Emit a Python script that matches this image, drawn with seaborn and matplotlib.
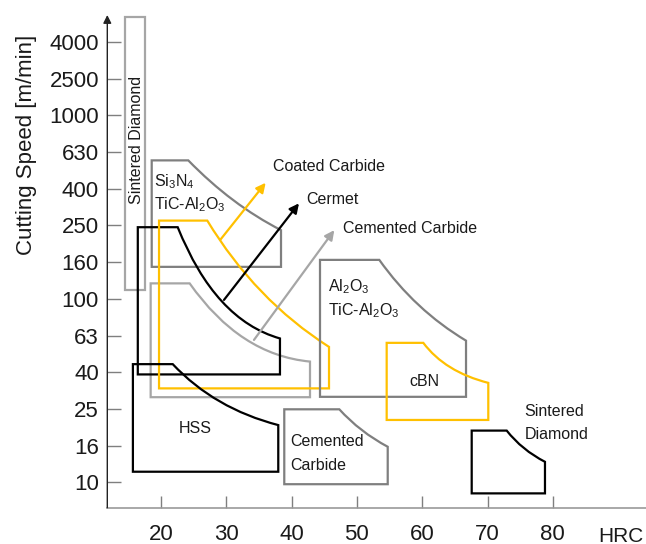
import matplotlib
matplotlib.use("Agg")
import matplotlib.pyplot as plt
from matplotlib.path import Path
from matplotlib.patches import PathPatch
import seaborn as sns

sns.set_theme(style="white")
FONT = "Liberation Sans"
plt.rcParams["font.family"] = [FONT, "DejaVu Sans"]
plt.rcParams["mathtext.fontset"] = "custom"
plt.rcParams["mathtext.rm"] = FONT
plt.rcParams["mathtext.it"] = FONT

# Cutting-speed ladder (evenly spaced steps) and hardness ticks
speed_labels = ["10", "16", "25", "40", "63", "100", "160", "250", "400", "630", "1000", "2500", "4000"]
hrc_ticks = [20, 30, 40, 50, 60, 70, 80]

# Tool-material regions: HRC range (x) and position on the speed ladder (y).
# Each region: left, bottom, top, x where the upper edge starts to fall,
# right, y where the falling edge meets the right side, and the bend point.
sd_tall = [14.55, 5.24, 12.67, 17.6]                     # left, bottom, top, right
si3n4 = [18.58, 5.87, 8.77, 24.18, 38.38, 6.87, 30.8, 7.56]
coated = [19.7, 2.56, 7.13, 27.09, 45.73, 3.69, 34.44, 4.97]
cermet = [16.45, 2.94, 6.95, 22.56, 38.22, 3.92, 28.27, 4.42]
cemented_hi = [18.42, 2.32, 5.42, 24.39, 42.82, 3.29, 32.1, 3.47]
hss = [15.7, 0.29, 3.22, 21.8, 37.96, 1.56, 28.19, 2.01]
cemented_lo = [38.88, -0.05, 1.99, 47.31, 54.72, 0.97, 50.47, 1.37]
al2o3 = [44.35, 2.33, 6.06, 53.43, 66.71, 3.86, 58.9, 4.69]
cbn = [54.56, 1.70, 3.80, 60.17, 70.12, 2.71, 63.49, 3.01]
sd_low = [67.58, -0.30, 1.41, 72.94, 78.8, 0.56, 75.28, 0.88]

# Development arrows: (x0, y0) -> (x1, y1)
arrow_coated = [29.14, 6.62, 36.03, 8.16]
arrow_cermet = [29.65, 4.97, 41.13, 7.6]
arrow_cemented = [34.24, 3.88, 46.54, 6.87]

GOLD = "#FFC000"
DARK = "#7F7F7F"
LIGHT = "#A6A6A6"
BLACK = "#000000"

fig = plt.figure(figsize=(6.46, 5.44), dpi=100)
ax = fig.add_axes([107.3 / 646, 1 - 507.7 / 544, (646 - 107.3) / 646, (507.7 - 15) / 544])
ax.set_xlim(11.78, 94.27)
ax.set_ylim(-0.69, 12.73)


def region(r, color):
    left, bottom, top, xs, right, ye, cx, cy = r
    verts = [(left, bottom), (left, top), (xs, top), (cx, cy), (right, ye),
             (right, bottom), (left, bottom)]
    codes = [Path.MOVETO, Path.LINETO, Path.LINETO, Path.CURVE3, Path.CURVE3,
             Path.LINETO, Path.CLOSEPOLY]
    ax.add_patch(PathPatch(Path(verts, codes), fill=False, edgecolor=color,
                           lw=1.6, joinstyle="miter", zorder=3))


def box(r, color):
    left, bottom, top, right = r
    verts = [(left, bottom), (left, top), (right, top), (right, bottom), (left, bottom)]
    codes = [Path.MOVETO, Path.LINETO, Path.LINETO, Path.LINETO, Path.CLOSEPOLY]
    ax.add_patch(PathPatch(Path(verts, codes), fill=False, edgecolor=color,
                           lw=1.6, joinstyle="miter", zorder=3))


def arrow(a, color):
    x0, y0, x1, y1 = a
    ax.annotate("", xy=(x1, y1), xytext=(x0, y0),
                arrowprops=dict(arrowstyle="-|>", color=color, lw=1.6,
                                mutation_scale=14, shrinkA=0, shrinkB=0),
                zorder=4)


box(sd_tall, LIGHT)
region(si3n4, DARK)
region(cemented_hi, LIGHT)
region(cermet, BLACK)
region(coated, GOLD)
region(hss, BLACK)
region(cemented_lo, DARK)
region(al2o3, DARK)
region(cbn, GOLD)
region(sd_low, BLACK)

arrow(arrow_coated, GOLD)
arrow(arrow_cermet, BLACK)
arrow(arrow_cemented, LIGHT)

LBL = 11.5
txt = dict(fontsize=LBL, color="#1a1a1a", zorder=5)
ax.text(37.2, 8.6, "Coated Carbide", va="center", ha="left", **txt)
ax.text(42.3, 7.71, "Cermet", va="center", ha="left", **txt)
ax.text(47.8, 6.92, "Cemented Carbide", va="center", ha="left", **txt)
ax.text(18.9, 8.19, "Si$_3$N$_4$", va="center", ha="left", **txt)
ax.text(18.9, 7.56, "TiC-Al$_2$O$_3$", va="center", ha="left", **txt)
ax.text(16.2, 9.33, "Sintered Diamond", va="center", ha="center", rotation=90, **txt)
ax.text(45.6, 5.33, "Al$_2$O$_3$", va="center", ha="left", **txt)
ax.text(45.6, 4.69, "TiC-Al$_2$O$_3$", va="center", ha="left", **txt)
ax.text(60.4, 2.74, "cBN", va="center", ha="center", **txt)
ax.text(25.2, 1.47, "HSS", va="center", ha="center", **txt)
ax.text(39.75, 1.11, "Cemented", va="center", ha="left", **txt)
ax.text(39.75, 0.47, "Carbide", va="center", ha="left", **txt)
ax.text(75.7, 1.94, "Sintered", va="center", ha="left", **txt)
ax.text(75.7, 1.31, "Diamond", va="center", ha="left", **txt)

# Axes styling
TICK_FS = 16
for s in ["top", "right"]:
    ax.spines[s].set_visible(False)
ax.spines["bottom"].set_color("#9a9a9a")
ax.spines["bottom"].set_linewidth(1.2)
ax.spines["left"].set_visible(False)
ax.annotate("", xy=(0, 1.0), xytext=(0, 0), xycoords="axes fraction",
            arrowprops=dict(arrowstyle="-|>", color="#222222", lw=1.0,
                            mutation_scale=12, shrinkA=0, shrinkB=0),
            annotation_clip=False)

ax.set_yticks(range(len(speed_labels)))
ax.set_yticklabels(speed_labels)
ax.set_xticks(hrc_ticks)
ax.set_xticklabels([str(v) for v in hrc_ticks])
ax.tick_params(axis="y", direction="in", length=10, width=1, color="#7f7f7f",
               pad=6, labelsize=TICK_FS, labelcolor="#1a1a1a", left=True)
ax.tick_params(axis="x", direction="in", length=9, width=1, color="#7f7f7f",
               pad=12, labelsize=TICK_FS, labelcolor="#1a1a1a", bottom=True)
ax.grid(False)

fig.text(643 / 646, 1 - 536 / 544, "HRC", fontsize=15, color="#1a1a1a",
         ha="right", va="center")
fig.text(27 / 646, 1 - 145 / 544, "Cutting Speed [m/min]", fontsize=TICK_FS,
         color="#1a1a1a", rotation=90, ha="center", va="center")

fig.savefig("out.png", dpi=100)
